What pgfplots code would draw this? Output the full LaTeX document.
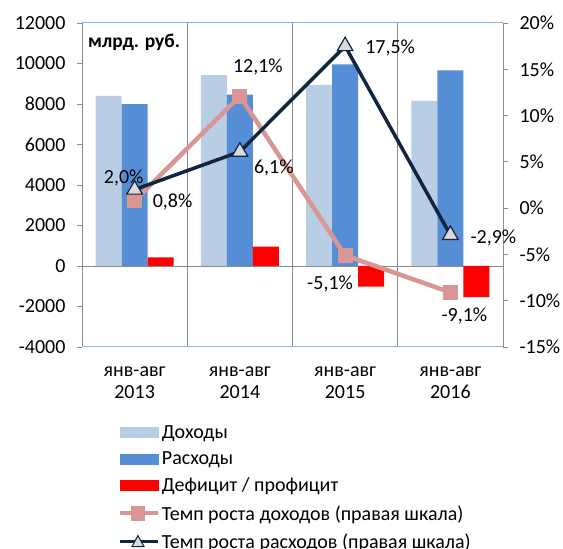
\documentclass[border=0pt]{standalone}
\usepackage{pgfplots}
\pgfplotsset{compat=1.18}
\usepackage{fontspec}
\setmainfont{Carlito}
\definecolor{cInc}{HTML}{B9CDE5}
\definecolor{cExp}{HTML}{558ED5}
\definecolor{cDef}{HTML}{FF0000}
\definecolor{cPink}{HTML}{D99694}
\definecolor{cNavy}{HTML}{10253F}
\definecolor{cTri}{HTML}{D9D9D9}
\definecolor{cGrid}{HTML}{8C8C8C}
\definecolor{cFrame}{HTML}{8EB4E3}
\newcommand{\fs}{\fontsize{20}{22}\selectfont}
\pgfplotsset{
  pinkleg/.style={legend image code/.code={\draw[cPink, line width=4pt] (0pt,0pt) -- (38pt,0pt); \fill[cPink] (13pt,-5pt) rectangle (23pt,5pt);}},
  navyleg/.style={legend image code/.code={\draw[cNavy, line width=3pt] (0pt,0pt) -- (38pt,0pt); \draw[cNavy, fill=cTri, line width=1pt] (12pt,-5pt) -- (24pt,-5pt) -- (18pt,6pt) -- cycle;}},
}
\begin{document}
\begin{tikzpicture}
\useasboundingbox (0,0) rectangle (563pt,549pt);
\begin{axis}[
  at={(82pt,202pt)}, anchor=south west,
  scale only axis, width=421pt, height=324pt,
  xmin=-0.5, xmax=3.5, ymin=-4000, ymax=12000,
  ytick={-4000,-2000,...,12000},
  scaled y ticks=false,
  xtick={0,1,2,3},
  xticklabels={{янв-авг\\2013},{янв-авг\\2014},{янв-авг\\2015},{янв-авг\\2016}},
  xticklabel style={align=center, font=\fs},
  yticklabel style={font=\fs, xshift=-8pt},
  /pgf/number format/1000 sep={},
  /pgf/number format/assume math mode=true,
  axis line style={draw=none},
  ytick pos=left, tick align=outside, major tick length=5pt,
  ytick style={cGrid, line width=0.8pt},
  xtick style={draw=none},
  xticklabel shift=11pt,
  ybar=0pt, bar width=26pt,
  clip=false,
]
\draw[cGrid, line width=0.9pt] (axis cs:0.5,-4000) -- (axis cs:0.5,12000);
\draw[cGrid, line width=0.9pt] (axis cs:1.5,-4000) -- (axis cs:1.5,12000);
\draw[cGrid, line width=0.9pt] (axis cs:2.5,-4000) -- (axis cs:2.5,12000);
\draw[cGrid, line width=0.9pt] (axis cs:-0.5,0) -- (axis cs:3.5,0);
\addplot[fill=cInc, draw=none] coordinates {(0,8400) (1,9420) (2,8940) (3,8150)};
\addplot[fill=cExp, draw=none] coordinates {(0,7990) (1,8460) (2,9960) (3,9660)};
\addplot[fill=cDef, draw=none] coordinates {(0,430) (1,960) (2,-1020) (3,-1540)};
\draw[cGrid, line width=0.9pt] (rel axis cs:0,0) -- (rel axis cs:0,1);
\draw[cFrame, line width=1pt] (rel axis cs:0,1) -- (rel axis cs:1,1);
\draw[cFrame, line width=1pt] (rel axis cs:0,0) -- (rel axis cs:1,0);
\node[anchor=north west, font=\fontsize{19.5}{22}\selectfont\bfseries, inner sep=0pt] at ([xshift=6pt,yshift=-11pt]rel axis cs:0,1) {млрд. руб.};
\end{axis}
\begin{axis}[
  at={(82pt,202pt)}, anchor=south west,
  scale only axis, width=421pt, height=324pt,
  xmin=-0.5, xmax=3.5, ymin=-15, ymax=20,
  ytick={-15,-10,...,20},
  yticklabel={\pgfmathprintnumber{\tick}\%},
  yticklabel style={font=\fs, xshift=8pt},
  /pgf/number format/assume math mode=true,
  hide x axis,
  axis y line*=right,
  y axis line style={cGrid, line width=0.9pt, -},
  tick align=outside, major tick length=5pt,
  ytick style={cGrid, line width=0.8pt},
  clip=false,
  legend style={at={(axis description cs:0.085,-0.235)}, anchor=north west, draw=none, fill=none, font=\fs, row sep=8pt, inner sep=0pt},
  legend cell align=left,
]
\addlegendimage{legend image code/.code={\fill[cInc] (0pt,-5pt) rectangle (38pt,5pt);}}
\addlegendentry{Доходы}
\addlegendimage{legend image code/.code={\fill[cExp] (0pt,-5pt) rectangle (38pt,5pt);}}
\addlegendentry{Расходы}
\addlegendimage{legend image code/.code={\fill[cDef] (0pt,-5pt) rectangle (38pt,5pt);}}
\addlegendentry{Дефицит / профицит}
\addplot[cPink, line width=4.5pt, mark=square*, mark size=7pt, mark options={line width=0pt, fill=cPink, draw=cPink}, pinkleg]
  coordinates {(0,0.8) (1,12.1) (2,-5.1) (3,-9.1)};
\addlegendentry{Темп роста доходов (правая шкала)}
\addplot[cNavy, line width=3.5pt, mark=triangle*, mark size=9pt, mark options={line width=1.2pt, fill=cTri, draw=cNavy}, navyleg]
  coordinates {(0,2.0) (1,6.1) (2,17.5) (3,-2.9)};
\addlegendentry{Темп роста расходов (правая шкала)}
\node[font=\fs, anchor=south east, inner sep=1pt] at ([xshift=10pt,yshift=2pt]axis cs:0,2.0) {2,0\%};
\node[font=\fs, anchor=west, inner sep=1pt] at ([xshift=17pt,yshift=-1pt]axis cs:0,0.8) {0,8\%};
\node[font=\fs, anchor=south, inner sep=1pt] at ([xshift=18pt,yshift=20pt]axis cs:1,12.1) {12,1\%};
\node[font=\fs, anchor=west, inner sep=1pt] at ([xshift=13pt,yshift=-16pt]axis cs:1,6.1) {6,1\%};
\node[font=\fs, anchor=west, inner sep=1pt] at ([xshift=19pt,yshift=-2pt]axis cs:2,17.5) {17,5\%};
\node[font=\fs, anchor=west, inner sep=1pt] at ([xshift=19pt,yshift=-3pt]axis cs:3,-2.9) {-2,9\%};
\node[font=\fs, anchor=east, inner sep=1pt] at ([xshift=9pt,yshift=-29pt]axis cs:2,-5.1) {-5,1\%};
\node[font=\fs, anchor=north, inner sep=1pt] at ([xshift=14pt,yshift=-14pt]axis cs:3,-9.1) {-9,1\%};
\end{axis}
\end{tikzpicture}
\end{document}
